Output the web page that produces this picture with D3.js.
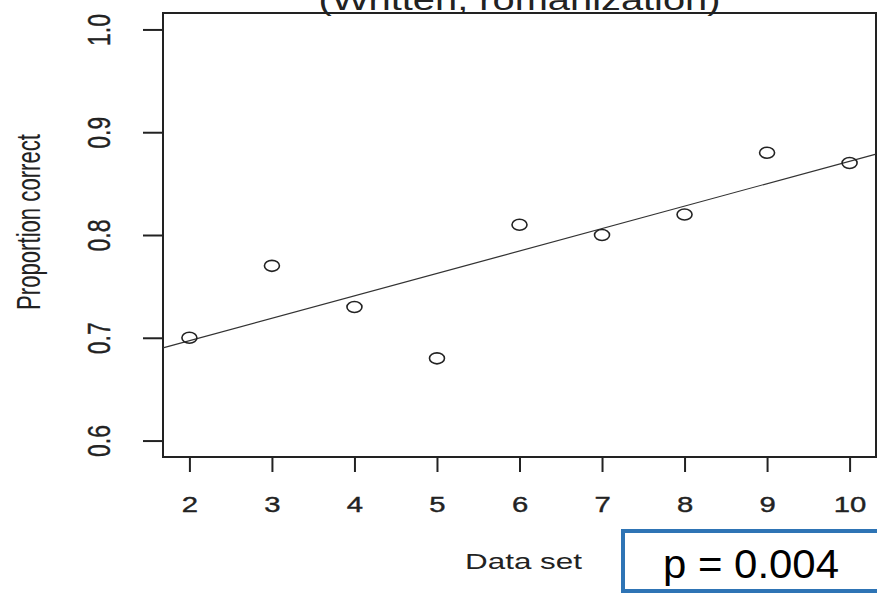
<!DOCTYPE html>
<html>
<head>
<meta charset="utf-8">
<script src="https://cdn.jsdelivr.net/npm/d3@7"></script>
<style>
  body { margin: 0; background: #fff; }
  svg { display: block; font-family: "Liberation Sans", Arial, sans-serif; }
</style>
</head>
<body>
<div id="chart"></div>
<script>
// data
var dataSets = [2, 3, 4, 5, 6, 7, 8, 9, 10];
var propCorrect = [0.70, 0.77, 0.73, 0.68, 0.81, 0.80, 0.82, 0.88, 0.87];
var xTicks = [2, 3, 4, 5, 6, 7, 8, 9, 10];
var yTicks = [0.6, 0.7, 0.8, 0.9, 1.0];
var pLabel = "p = 0.004";

var W = 877, H = 593;
var plot = { left: 163, right: 876, top: 13, bottom: 457 };
var stretch = 1.33; // the original picture is stretched sideways

var svg = d3.select('#chart').append('svg')
    .attr('width', W)
    .attr('height', H);

var x = d3.scaleLinear().domain([1.68, 10.32]).range([plot.left, plot.right]);
var y = d3.scaleLinear().domain([0.584, 1.016]).range([plot.bottom, plot.top]);

// title, mostly cut off at the top
svg.append('text')
    .attr('x', (plot.left + plot.right) / 2)
    .attr('y', 10)
    .attr('text-anchor', 'middle')
    .attr('font-size', 30)
    .attr('textLength', 402)
    .attr('lengthAdjust', 'spacingAndGlyphs')
    .attr('fill', '#222')
    .text('(Written, romanization)');

// axes
var xAxis = svg.append('g')
    .attr('transform', 'translate(0,' + plot.bottom + ')')
    .call(d3.axisBottom(x).tickValues(xTicks).tickSize(15).tickPadding(24).tickSizeOuter(0)
        .tickFormat(d3.format('d')));

xAxis.selectAll('text')
    .attr('font-size', 22)
    .attr('fill', '#222')
    .attr('stroke', '#222')
    .attr('stroke-width', 0.4)
    .attr('transform', 'scale(' + stretch + ',1)');

var yAxis = svg.append('g')
    .attr('transform', 'translate(' + plot.left + ',0)')
    .call(d3.axisLeft(y).tickValues(yTicks).tickSize(20).tickSizeOuter(0)
        .tickFormat(d3.format('.1f')));

yAxis.selectAll('text')
    .attr('x', null)
    .attr('dy', null)
    .attr('text-anchor', 'middle')
    .attr('font-size', 23)
    .attr('fill', '#222')
    .attr('stroke', '#222')
    .attr('stroke-width', 0.3)
    .attr('transform', 'translate(-53,0) scale(' + stretch + ',1) rotate(-90)');

svg.selectAll('.domain').remove();
svg.selectAll('.tick line').attr('stroke', '#222').attr('stroke-width', 2);

// frame
svg.append('rect')
    .attr('x', plot.left)
    .attr('y', plot.top)
    .attr('width', plot.right - plot.left)
    .attr('height', plot.bottom - plot.top)
    .attr('fill', 'none')
    .attr('stroke', '#222')
    .attr('stroke-width', 2);

// least squares fit line
var mx = d3.mean(dataSets), my = d3.mean(propCorrect);
var sxy = d3.sum(dataSets, function (d, i) { return (d - mx) * (propCorrect[i] - my); });
var sxx = d3.sum(dataSets, function (d) { return (d - mx) * (d - mx); });
var slope = sxy / sxx, icept = my - slope * mx;
var xd = x.domain();

svg.append('line')
    .attr('x1', x(xd[0])).attr('y1', y(icept + slope * xd[0]))
    .attr('x2', x(xd[1])).attr('y2', y(icept + slope * xd[1]))
    .attr('stroke', '#333')
    .attr('stroke-width', 1.2);

// points
svg.selectAll('.pt')
    .data(dataSets)
  .enter().append('ellipse')
    .attr('class', 'pt')
    .attr('cx', function (d) { return x(d); })
    .attr('cy', function (d, i) { return y(propCorrect[i]); })
    .attr('rx', 7.5)
    .attr('ry', 5.5)
    .attr('fill', 'none')
    .attr('stroke', '#222')
    .attr('stroke-width', 1.6);

// axis titles
svg.append('text')
    .attr('transform', 'translate(40,222) scale(' + stretch + ',1) rotate(-90)')
    .attr('text-anchor', 'middle')
    .attr('font-size', 25)
    .attr('textLength', 176)
    .attr('lengthAdjust', 'spacingAndGlyphs')
    .attr('fill', '#222')
    .text('Proportion correct');

svg.append('text')
    .attr('x', 465)
    .attr('y', 569)
    .attr('font-size', 22)
    .attr('textLength', 117)
    .attr('lengthAdjust', 'spacingAndGlyphs')
    .attr('fill', '#222')
    .text('Data set');

// p-value box
svg.append('rect')
    .attr('x', 623)
    .attr('y', 531)
    .attr('width', 300)
    .attr('height', 60)
    .attr('fill', '#fff')
    .attr('stroke', '#2e74b5')
    .attr('stroke-width', 4);

svg.append('text')
    .attr('x', 663)
    .attr('y', 578)
    .attr('font-size', 40)
    .attr('textLength', 176)
    .attr('lengthAdjust', 'spacingAndGlyphs')
    .attr('fill', '#000')
    .text(pLabel);
</script>
</body>
</html>
